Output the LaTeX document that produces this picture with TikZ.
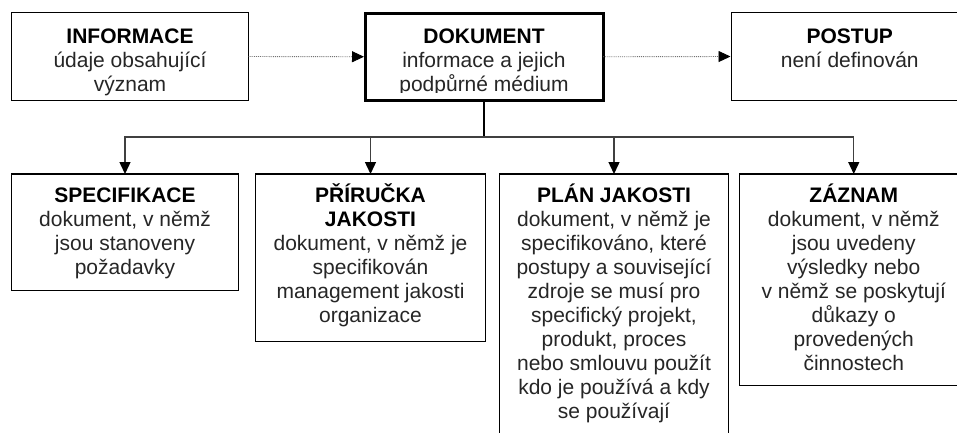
\documentclass[tikz,border=0pt]{standalone}
\usepackage{fontspec}
\setmainfont{Liberation Sans}
\usetikzlibrary{arrows.meta}
\begin{document}
\begin{tikzpicture}[x=1pt,y=-1pt,
  box/.style={draw=black, line width=1.3pt, fill=white, rectangle, inner sep=0pt, outer sep=0pt},
  mainbox/.style={box, line width=3pt},
  txt/.style={align=center, inner sep=0pt, anchor=north, text=black!85,
              font=\fontsize{21}{24}\selectfont},
  link/.style={densely dotted, draw=black!55, line width=0.9pt, shorten >=1pt,
               -{Triangle[length=12pt,width=11pt,color=black]}},
  branch/.style={draw=black!75, line width=1.4pt,
                 -{Triangle[length=12pt,width=11pt,color=black]}},
  stem/.style={draw=black, line width=2pt}]
\newcommand{\hd}[1]{\rule{0pt}{20pt}\textbf{\color{black}#1}}

\useasboundingbox (0,0) rectangle (957,432);
\clip (0,0) rectangle (957,432);

% top row
\node[box, minimum width=237pt, minimum height=88pt] (info) at (130,56.5) {};
\node[mainbox, minimum width=238pt, minimum height=87.5pt] (dok) at (484,56.75) {};
\node[box, minimum width=236.5pt, minimum height=88pt] (postup) at (849.75,56.5) {};

\node[txt] (infoT) at (130,23) {\hd{INFORMACE}\\údaje obsahující\\význam};
\begin{scope}
  \clip (365,13) rectangle (603,92.5);
  \node[txt] (dokT) at (484,23) {\hd{DOKUMENT}\\informace a jejich\\podpůrné médium};
\end{scope}
\node[txt] (postupT) at (849.75,23) {\hd{POSTUP}\\není definován};

% bottom row
\node[box, minimum width=227pt, minimum height=116.5pt] (spec) at (125,232.25) {};
\node[box, minimum width=230pt, minimum height=167.5pt] (prir) at (370.5,257.75) {};
\node[box, minimum width=229pt, minimum height=276pt] (plan) at (614,312) {};
\node[box, minimum width=228.5pt, minimum height=211.5pt] (zaznam) at (853.75,279.75) {};

\node[txt] (specT) at (125,182) {\hd{SPECIFIKACE}\\dokument, v němž\\jsou stanoveny\\požadavky};
\node[txt] (prirT) at (370.5,182) {\hd{PŘÍRUČKA}\\\textbf{\color{black}JAKOSTI}\\dokument, v němž je\\specifikován\\management jakosti\\organizace};
\node[txt] (planT) at (614,182) {\hd{PLÁN JAKOSTI}\\dokument, v němž je\\specifikováno, které\\postupy a související\\zdroje se musí pro\\specifický projekt,\\produkt, proces\\nebo smlouvu použít\\kdo je používá a kdy\\se používají};
\node[txt] (zaznamT) at (853.75,182) {\hd{ZÁZNAM}\\dokument, v němž\\jsou uvedeny\\výsledky nebo\\v němž se poskytují\\důkazy o\\provedených\\činnostech};

% connectors
\draw[link] (info.east) -- (dok.west);
\draw[link] (dok.east) -- (postup.west);

\coordinate (bus) at (484,137);
\draw[stem] (dok.south) -- (bus);
\draw[branch] (bus) -| (spec.north);
\draw[branch] (bus) -| (prir.north);
\draw[branch] (bus) -| (plan.north);
\draw[branch] (bus) -| (zaznam.north);
\end{tikzpicture}
\end{document}
